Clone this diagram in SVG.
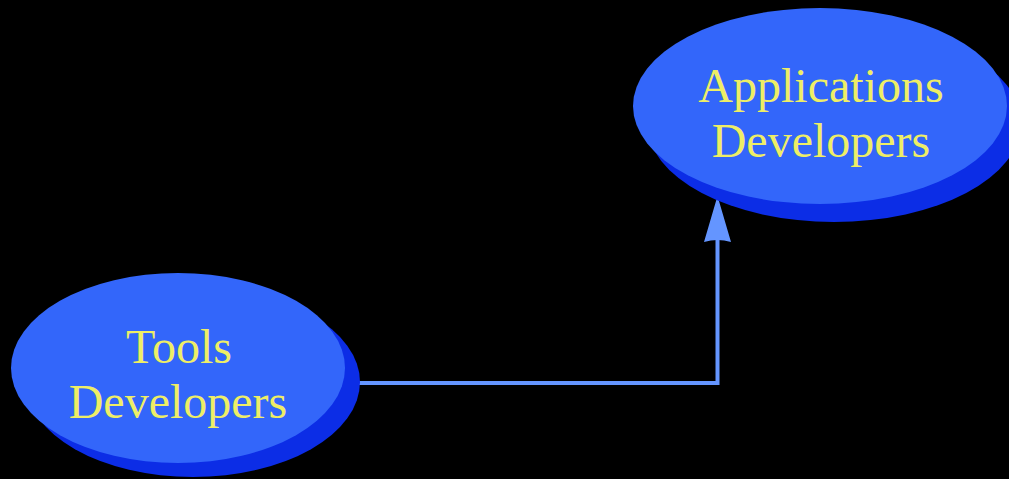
<svg xmlns="http://www.w3.org/2000/svg" width="1009" height="479" viewBox="0 0 1009 479">
<style>
.shadow{fill:#0C2DE6}
.face{fill:#3366FA}
.lbl{font-family:"Liberation Serif","Times New Roman",serif;font-size:48px;fill:#EEEE66;text-anchor:middle}
.conn{stroke:#6495FF;stroke-width:4;fill:none}
</style>
<rect width="1009" height="479" fill="#000"/>
<g id="connectors">
<polyline class="conn" points="358,383 717.5,383 717.5,238"/>
<path d="M717.5,196 L731,242 Q717.5,238 704,242 Z" fill="#6495FF"/>
</g>
<g id="tools">
<ellipse class="shadow" cx="193" cy="382" rx="167" ry="95"/>
<ellipse class="face" cx="178" cy="368" rx="167" ry="95"/>
<text class="lbl" x="179" y="363">Tools</text>
<text class="lbl" x="178" y="418">Developers</text>
</g>
<g id="apps">
<ellipse class="shadow" cx="834" cy="123" rx="187" ry="99"/>
<ellipse class="face" cx="820" cy="106" rx="187" ry="98"/>
<text class="lbl" x="821" y="102">Applications</text>
<text class="lbl" x="821" y="157">Developers</text>
</g>
</svg>
